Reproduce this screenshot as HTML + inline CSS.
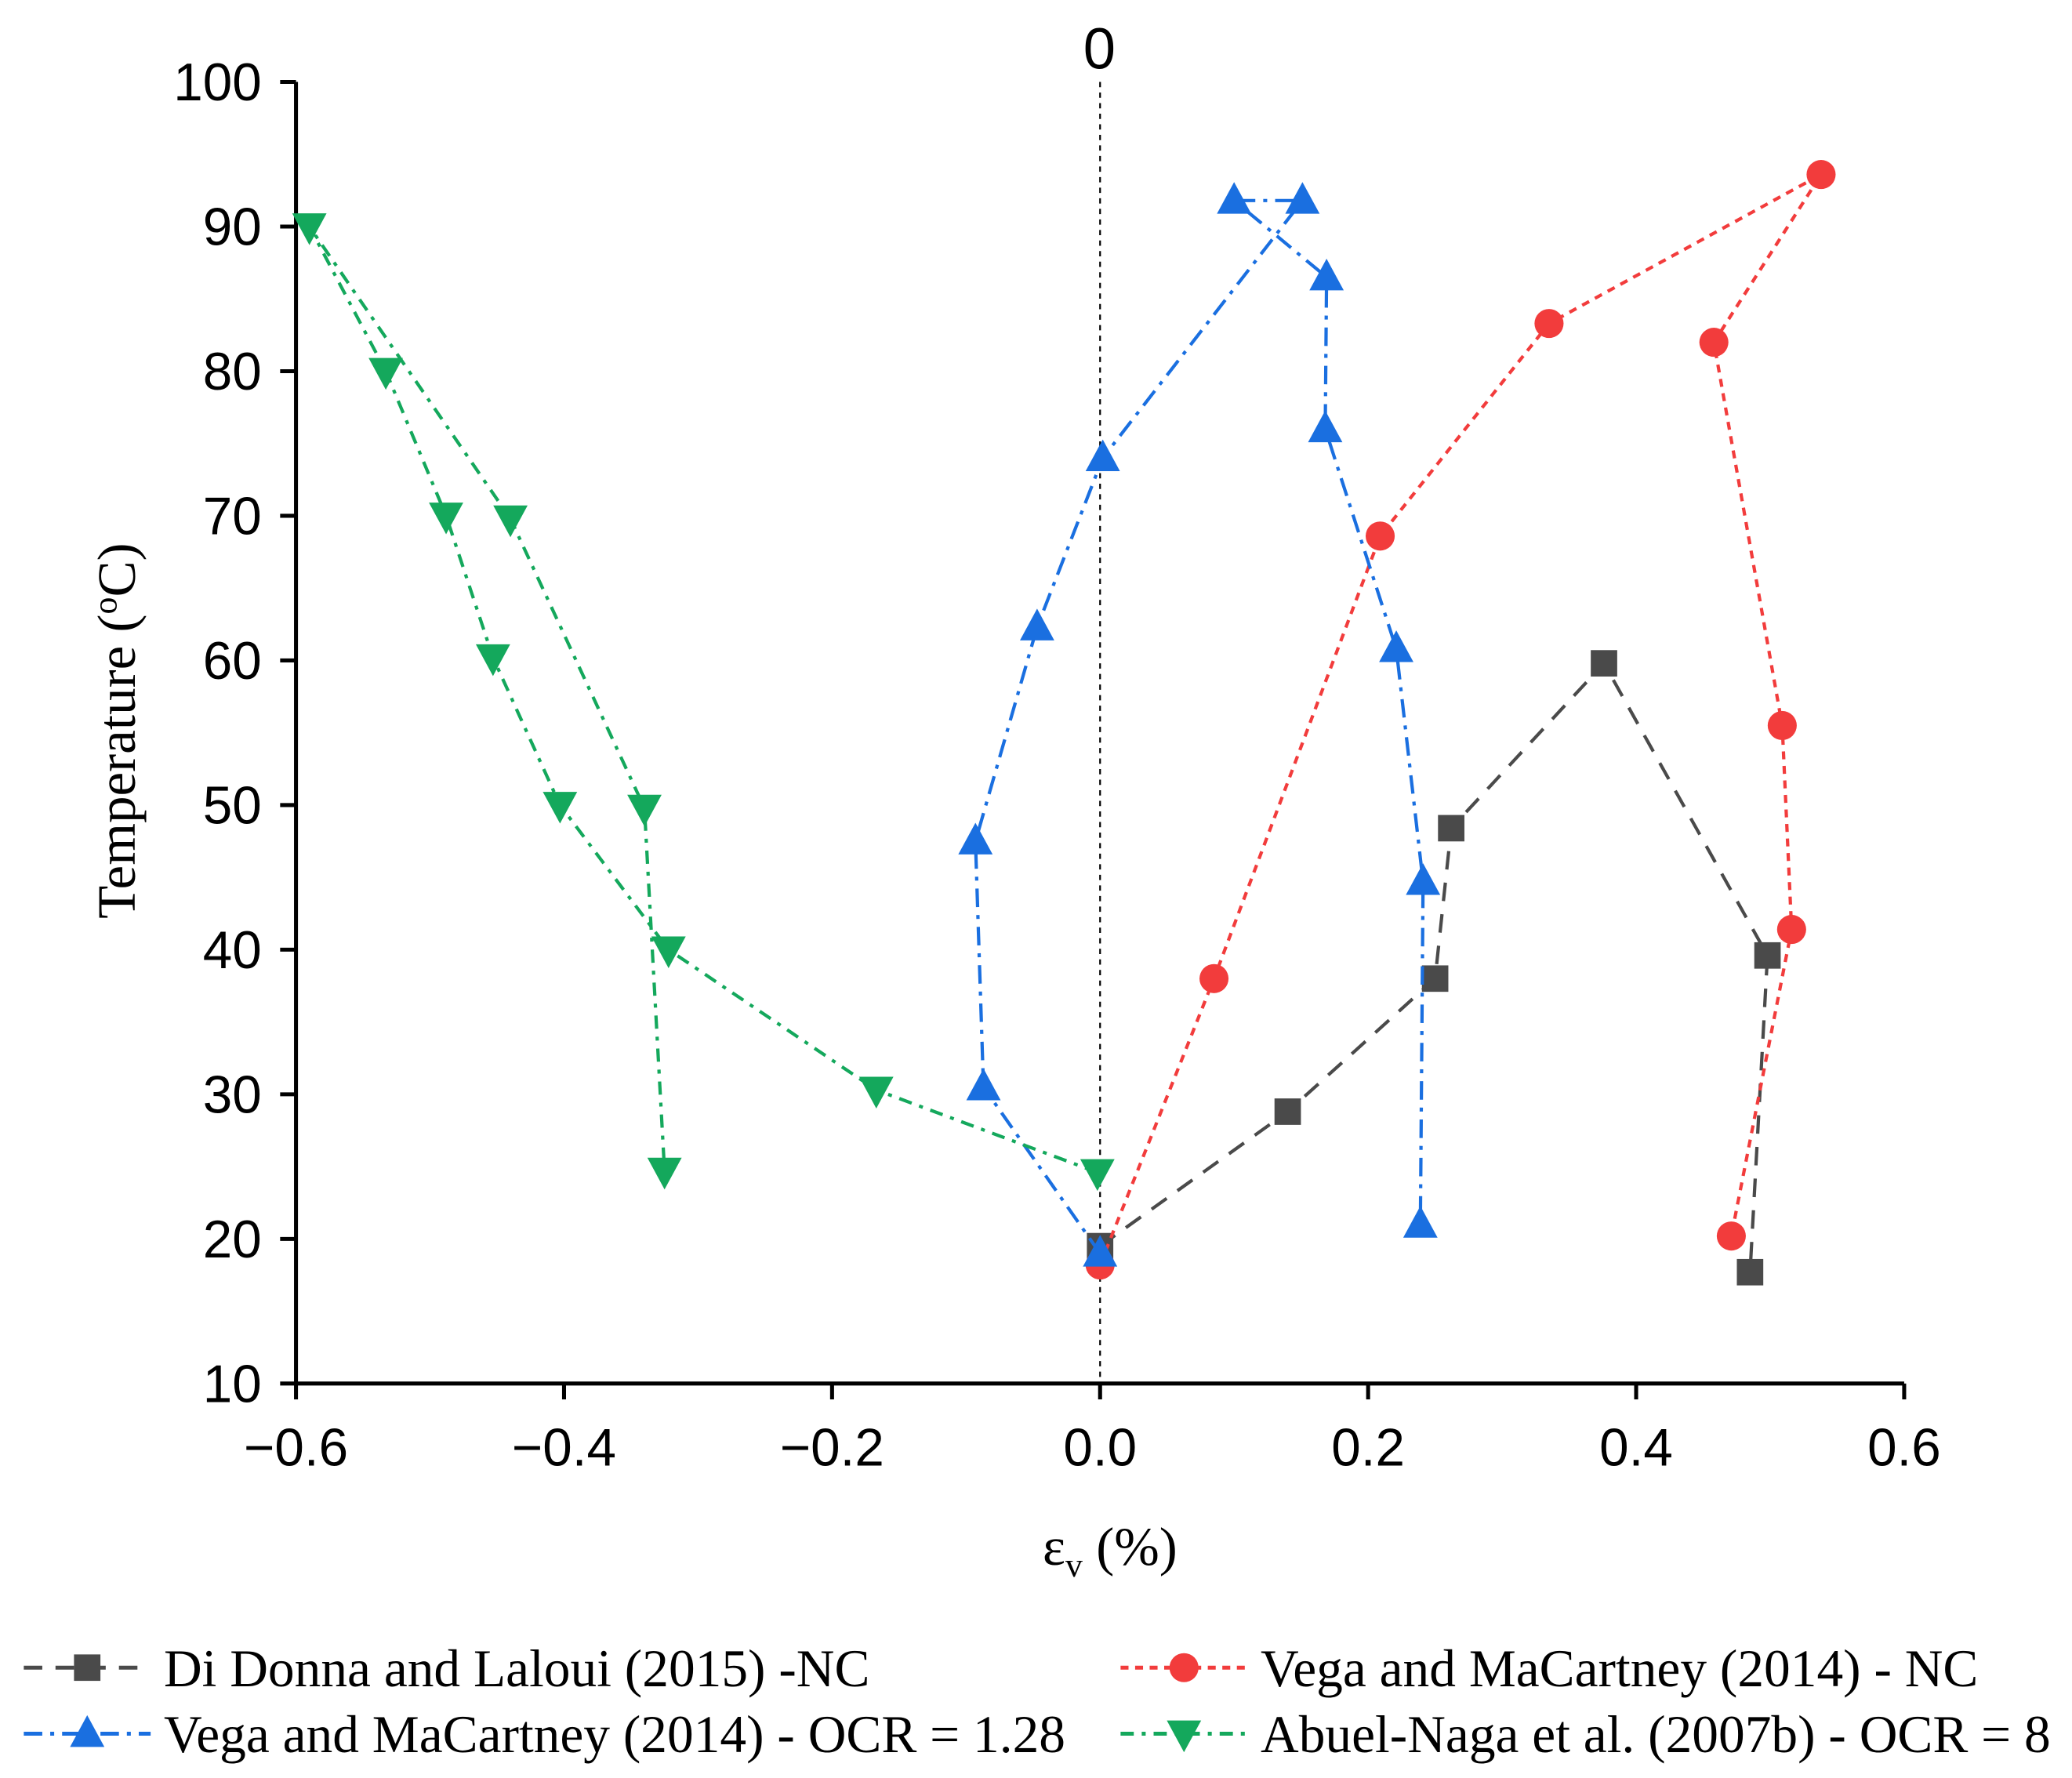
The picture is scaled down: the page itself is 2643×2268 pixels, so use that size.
<!DOCTYPE html>
<html><head><meta charset="utf-8"><style>
html,body{margin:0;padding:0;background:#fff;}
svg{display:block;}
</style></head><body>
<svg id="chart" width="2643" height="2268" viewBox="0 0 1568 1345.5" xmlns="http://www.w3.org/2000/svg">
<g id="axes"></g>
<g id="series"></g>
<text x="832" y="52" font-family="Liberation Sans, sans-serif" font-size="44" text-anchor="middle">0</text>
<text transform="translate(102,553) rotate(-90)" font-family="Liberation Serif, serif" font-size="41" text-anchor="middle">Temperature (<tspan font-size="26" dy="-14">o</tspan><tspan dy="14">C)</tspan></text>
<text x="840" y="1184" font-family="Liberation Serif, serif" font-size="41" text-anchor="middle">ε<tspan font-size="26" dy="9">v</tspan><tspan dy="-9"> (%)</tspan></text>
<g id="legend"></g>
</svg>
<script>
const xTicks=[-0.6,-0.4,-0.2,0.0,0.2,0.4,0.6];
const xTickLabels=["−0.6","−0.4","−0.2","0.0","0.2","0.4","0.6"];
const yTicks=[10,20,30,40,50,60,70,80,90,100];
const ddX=[0,0.14,0.25,0.262,0.376,0.498,0.485];
const ddY=[19.5,28.8,38,48.4,59.8,39.6,17.7];
const vncX=[0,0.085,0.209,0.335,0.538,0.458,0.509,0.516,0.471];
const vncY=[18.2,38,68.6,83.3,93.6,82,55.5,41.4,20.2];
const vocX=[0,-0.087,-0.093,-0.047,0.002,0.151,0.1,0.169,0.168,0.221,0.241,0.239];
const vocY=[19,30.5,47.5,62.3,74,91.8,91.8,86.5,76,60.8,44.7,21];
const anX=[-0.002,-0.167,-0.322,-0.403,-0.453,-0.488,-0.533,-0.59,-0.44,-0.34,-0.325];
const anY=[24.6,30.3,40,50,60.2,70,80,90,69.8,49.8,24.7];
const legendLabels=["Di Donna and Laloui (2015) -NC","Vega and MaCartney (2014) - NC","Vega and MaCartney (2014) - OCR = 1.28","Abuel-Naga et al. (2007b) - OCR = 8"];

const NS="http://www.w3.org/2000/svg";
const X0=224,X1=1441,Y0=1047,Y1=62;
const sx=v=>X0+(v+0.6)/1.2*(X1-X0);
const sy=v=>Y0-(v-10)/90*(Y0-Y1);
function mk(tag,attrs,parent){const e=document.createElementNS(NS,tag);for(const k in attrs)e.setAttribute(k,attrs[k]);parent.appendChild(e);return e;}
const axes=document.getElementById('axes');
let e;
e=mk('line',{x1:X0,y1:Y1,x2:X0,y2:Y0,stroke:'#000','stroke-width':3},axes);


e=mk('line',{x1:X0,y1:Y0,x2:X1,y2:Y0,stroke:'#000','stroke-width':3},axes);


e=mk('line',{x1:sx(0),y1:Y1,x2:sx(0),y2:Y0,stroke:'#000','stroke-width':1.3,'stroke-dasharray':'4,4'},axes);


xTicks.forEach((t,i)=>{
  let l=mk('line',{x1:sx(t),y1:Y0,x2:sx(t),y2:Y0+12,stroke:'#000','stroke-width':3},axes);
  
  
  let tx=mk('text',{x:sx(t),y:Y0+62,'font-family':'Liberation Sans, sans-serif','font-size':40,'text-anchor':'middle'},axes);
  tx.textContent=xTickLabels[i];
  
  
});
yTicks.forEach(t=>{
  let l=mk('line',{x1:X0-12,y1:sy(t),x2:X0,y2:sy(t),stroke:'#000','stroke-width':3},axes);
  
  
  let tx=mk('text',{x:X0-26,y:sy(t)+14,'font-family':'Liberation Sans, sans-serif','font-size':40,'text-anchor':'end'},axes);
  tx.textContent=t;
  
  
});
function marker(kind,cx,cy,color,parent){
  if(kind==='sq')return mk('rect',{x:cx-10,y:cy-10,width:20,height:20,fill:color},parent);
  if(kind==='ci')return mk('circle',{cx:cx,cy:cy,r:11,fill:color},parent);
  if(kind==='up')return mk('polygon',{points:`${cx},${cy-14} ${cx-13},${cy+10} ${cx+13},${cy+10}`,fill:color},parent);
  return mk('polygon',{points:`${cx},${cy+14} ${cx-13},${cy-10} ${cx+13},${cy-10}`,fill:color},parent);
}
const ser=document.getElementById('series');
const defs=[
 {xs:ddX,ys:ddY,c:'#4a4a4a',d:'14,10',m:'sq',n:'di-donna-nc'},
 {xs:vncX,ys:vncY,c:'#f23c3c',d:'6,5',m:'ci',n:'vega-nc'},
 {xs:vocX,ys:vocY,c:'#1a6fe0',d:'14,6,3,6',m:'up',n:'vega-ocr-1-28'},
 {xs:anX,ys:anY,c:'#14a85c',d:'10,6,3,6',m:'dn',n:'abuel-naga-ocr-8'}];
defs.forEach(s=>{
  const g=mk('g',{},ser);
  
  
  const p=mk('polyline',{points:s.xs.map((x,i)=>sx(x)+','+sy(s.ys[i])).join(' '),fill:'none',stroke:s.c,'stroke-width':2.5,'stroke-dasharray':s.d},g);
  
  
  s.xs.forEach((x,i)=>{
    const m=marker(s.m,sx(x),sy(s.ys[i]),s.c,g);
    
    
  });
});
const lg=document.getElementById('legend');
const lpos=[[18,1262,0],[848,1262,1],[18,1312,2],[848,1312,3]];
lpos.forEach(([x,y,k])=>{
  const s=defs[k];
  const g=mk('g',{},lg);
  
  
  const l=mk('line',{x1:x,y1:y,x2:x+96,y2:y,stroke:s.c,'stroke-width':3,'stroke-dasharray':s.d},g);
  
  
  const m=marker(s.m,x+48,y,s.c,g);
  
  
  const t=mk('text',{x:x+106,y:y+14,'font-family':'Liberation Serif, serif','font-size':40},g);
  t.textContent=legendLabels[k];
  
  
});
</script>
</body></html>
